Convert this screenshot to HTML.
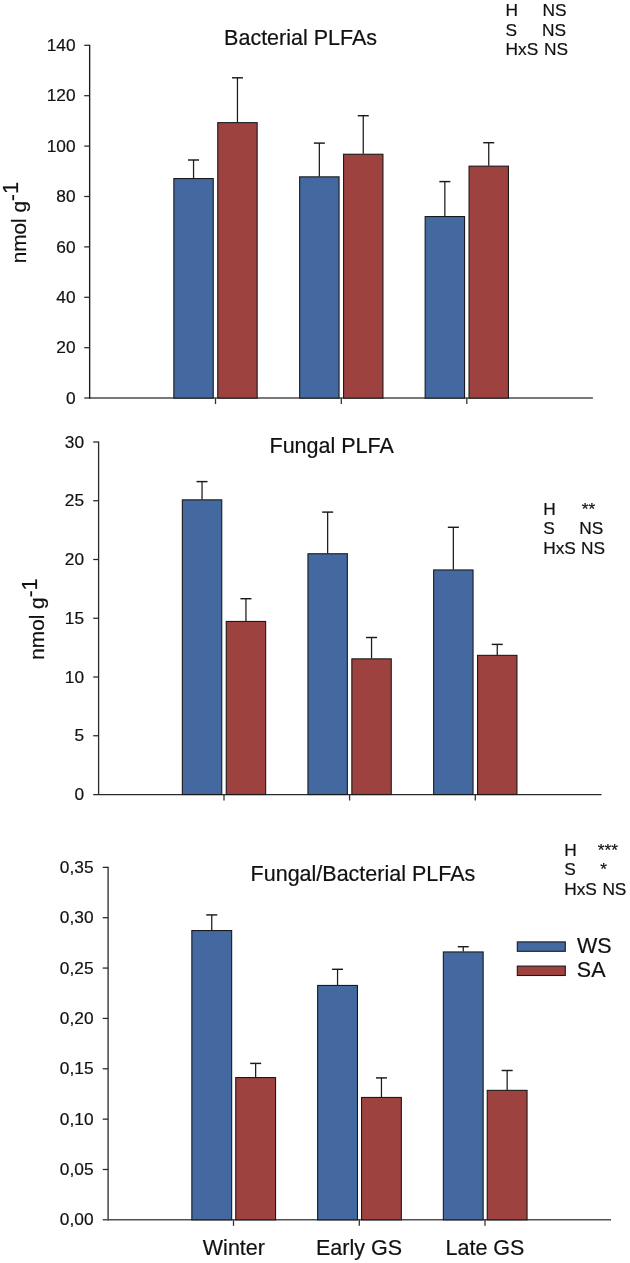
<!DOCTYPE html>
<html><head><meta charset="utf-8"><title>PLFA charts</title>
<style>
html,body{margin:0;padding:0;background:#fff;}
text{stroke:#111;stroke-width:0.2px;}
svg{display:block;font-family:"Liberation Sans", Arial, sans-serif;fill:#111;will-change:transform;transform:translateZ(0);}
</style></head>
<body>
<svg width="630" height="1263" viewBox="0 0 630 1263">
<rect x="0" y="0" width="630" height="1263" fill="#ffffff"/>
<line x1="84.25" y1="398.10" x2="592.90" y2="398.10" stroke="#4c4c4c" stroke-width="1.5"/>
<line x1="89.65" y1="44.70" x2="89.65" y2="398.70" stroke="#1a1a1a" stroke-width="1.35"/>
<rect x="173.85" y="178.55" width="39.40" height="219.55" fill="#4469A1" stroke="#1a1a1a" stroke-width="1.1"/>
<line x1="193.55" y1="178.10" x2="193.55" y2="160.00" stroke="#1a1a1a" stroke-width="1.25"/>
<line x1="188.05" y1="160.00" x2="199.05" y2="160.00" stroke="#1a1a1a" stroke-width="1.45"/>
<rect x="217.75" y="122.65" width="39.40" height="275.45" fill="#9E4240" stroke="#1a1a1a" stroke-width="1.1"/>
<line x1="237.45" y1="122.20" x2="237.45" y2="77.80" stroke="#1a1a1a" stroke-width="1.25"/>
<line x1="231.95" y1="77.80" x2="242.95" y2="77.80" stroke="#1a1a1a" stroke-width="1.45"/>
<rect x="299.65" y="176.85" width="39.40" height="221.25" fill="#4469A1" stroke="#1a1a1a" stroke-width="1.1"/>
<line x1="319.35" y1="176.40" x2="319.35" y2="143.10" stroke="#1a1a1a" stroke-width="1.25"/>
<line x1="313.85" y1="143.10" x2="324.85" y2="143.10" stroke="#1a1a1a" stroke-width="1.45"/>
<rect x="343.55" y="154.25" width="39.40" height="243.85" fill="#9E4240" stroke="#1a1a1a" stroke-width="1.1"/>
<line x1="363.25" y1="153.80" x2="363.25" y2="115.70" stroke="#1a1a1a" stroke-width="1.25"/>
<line x1="357.75" y1="115.70" x2="368.75" y2="115.70" stroke="#1a1a1a" stroke-width="1.45"/>
<rect x="425.15" y="216.55" width="39.40" height="181.55" fill="#4469A1" stroke="#1a1a1a" stroke-width="1.1"/>
<line x1="444.85" y1="216.10" x2="444.85" y2="181.60" stroke="#1a1a1a" stroke-width="1.25"/>
<line x1="439.35" y1="181.60" x2="450.35" y2="181.60" stroke="#1a1a1a" stroke-width="1.45"/>
<rect x="469.05" y="166.15" width="39.40" height="231.95" fill="#9E4240" stroke="#1a1a1a" stroke-width="1.1"/>
<line x1="488.75" y1="165.70" x2="488.75" y2="142.70" stroke="#1a1a1a" stroke-width="1.25"/>
<line x1="483.25" y1="142.70" x2="494.25" y2="142.70" stroke="#1a1a1a" stroke-width="1.45"/>
<text x="75.60" y="403.70" font-size="17.3" text-anchor="end" >0</text>
<line x1="84.25" y1="347.70" x2="89.65" y2="347.70" stroke="#262626" stroke-width="1.25"/>
<text x="75.60" y="353.30" font-size="17.3" text-anchor="end" >20</text>
<line x1="84.25" y1="297.30" x2="89.65" y2="297.30" stroke="#262626" stroke-width="1.25"/>
<text x="75.60" y="302.90" font-size="17.3" text-anchor="end" >40</text>
<line x1="84.25" y1="246.90" x2="89.65" y2="246.90" stroke="#262626" stroke-width="1.25"/>
<text x="75.60" y="252.50" font-size="17.3" text-anchor="end" >60</text>
<line x1="84.25" y1="196.50" x2="89.65" y2="196.50" stroke="#262626" stroke-width="1.25"/>
<text x="75.60" y="202.10" font-size="17.3" text-anchor="end" >80</text>
<line x1="84.25" y1="146.10" x2="89.65" y2="146.10" stroke="#262626" stroke-width="1.25"/>
<text x="75.60" y="151.70" font-size="17.3" text-anchor="end" >100</text>
<line x1="84.25" y1="95.70" x2="89.65" y2="95.70" stroke="#262626" stroke-width="1.25"/>
<text x="75.60" y="101.30" font-size="17.3" text-anchor="end" >120</text>
<line x1="84.25" y1="45.30" x2="89.65" y2="45.30" stroke="#262626" stroke-width="1.25"/>
<text x="75.60" y="50.90" font-size="17.3" text-anchor="end" >140</text>
<line x1="215.50" y1="398.10" x2="215.50" y2="404.10" stroke="#333" stroke-width="1.3"/>
<line x1="341.30" y1="398.10" x2="341.30" y2="404.10" stroke="#333" stroke-width="1.3"/>
<line x1="466.80" y1="398.10" x2="466.80" y2="404.10" stroke="#333" stroke-width="1.3"/>
<line x1="93.20" y1="794.50" x2="601.50" y2="794.50" stroke="#2a2a2a" stroke-width="1.25"/>
<line x1="98.60" y1="441.40" x2="98.60" y2="795.10" stroke="#2a2a2a" stroke-width="1.3"/>
<rect x="182.35" y="499.85" width="39.40" height="294.65" fill="#4469A1" stroke="#1a1a1a" stroke-width="1.1"/>
<line x1="202.05" y1="499.40" x2="202.05" y2="481.60" stroke="#1a1a1a" stroke-width="1.25"/>
<line x1="196.55" y1="481.60" x2="207.55" y2="481.60" stroke="#1a1a1a" stroke-width="1.45"/>
<rect x="226.25" y="621.45" width="39.40" height="173.05" fill="#9E4240" stroke="#1a1a1a" stroke-width="1.1"/>
<line x1="245.95" y1="621.00" x2="245.95" y2="598.70" stroke="#1a1a1a" stroke-width="1.25"/>
<line x1="240.45" y1="598.70" x2="251.45" y2="598.70" stroke="#1a1a1a" stroke-width="1.45"/>
<rect x="307.95" y="553.75" width="39.40" height="240.75" fill="#4469A1" stroke="#1a1a1a" stroke-width="1.1"/>
<line x1="327.65" y1="553.30" x2="327.65" y2="512.10" stroke="#1a1a1a" stroke-width="1.25"/>
<line x1="322.15" y1="512.10" x2="333.15" y2="512.10" stroke="#1a1a1a" stroke-width="1.45"/>
<rect x="351.85" y="658.85" width="39.40" height="135.65" fill="#9E4240" stroke="#1a1a1a" stroke-width="1.1"/>
<line x1="371.55" y1="658.40" x2="371.55" y2="637.50" stroke="#1a1a1a" stroke-width="1.25"/>
<line x1="366.05" y1="637.50" x2="377.05" y2="637.50" stroke="#1a1a1a" stroke-width="1.45"/>
<rect x="433.65" y="569.95" width="39.40" height="224.55" fill="#4469A1" stroke="#1a1a1a" stroke-width="1.1"/>
<line x1="453.35" y1="569.50" x2="453.35" y2="527.30" stroke="#1a1a1a" stroke-width="1.25"/>
<line x1="447.85" y1="527.30" x2="458.85" y2="527.30" stroke="#1a1a1a" stroke-width="1.45"/>
<rect x="477.55" y="655.35" width="39.40" height="139.15" fill="#9E4240" stroke="#1a1a1a" stroke-width="1.1"/>
<line x1="497.25" y1="654.90" x2="497.25" y2="644.40" stroke="#1a1a1a" stroke-width="1.25"/>
<line x1="491.75" y1="644.40" x2="502.75" y2="644.40" stroke="#1a1a1a" stroke-width="1.45"/>
<text x="84.00" y="800.10" font-size="17.3" text-anchor="end" >0</text>
<line x1="93.20" y1="735.75" x2="98.60" y2="735.75" stroke="#262626" stroke-width="1.25"/>
<text x="84.00" y="741.35" font-size="17.3" text-anchor="end" >5</text>
<line x1="93.20" y1="677.00" x2="98.60" y2="677.00" stroke="#262626" stroke-width="1.25"/>
<text x="84.00" y="682.60" font-size="17.3" text-anchor="end" >10</text>
<line x1="93.20" y1="618.25" x2="98.60" y2="618.25" stroke="#262626" stroke-width="1.25"/>
<text x="84.00" y="623.85" font-size="17.3" text-anchor="end" >15</text>
<line x1="93.20" y1="559.50" x2="98.60" y2="559.50" stroke="#262626" stroke-width="1.25"/>
<text x="84.00" y="565.10" font-size="17.3" text-anchor="end" >20</text>
<line x1="93.20" y1="500.75" x2="98.60" y2="500.75" stroke="#262626" stroke-width="1.25"/>
<text x="84.00" y="506.35" font-size="17.3" text-anchor="end" >25</text>
<line x1="93.20" y1="442.00" x2="98.60" y2="442.00" stroke="#262626" stroke-width="1.25"/>
<text x="84.00" y="447.60" font-size="17.3" text-anchor="end" >30</text>
<line x1="224.00" y1="794.50" x2="224.00" y2="800.50" stroke="#333" stroke-width="1.3"/>
<line x1="349.60" y1="794.50" x2="349.60" y2="800.50" stroke="#333" stroke-width="1.3"/>
<line x1="475.30" y1="794.50" x2="475.30" y2="800.50" stroke="#333" stroke-width="1.3"/>
<line x1="102.70" y1="1219.85" x2="611.00" y2="1219.85" stroke="#505050" stroke-width="1.5"/>
<line x1="108.10" y1="866.75" x2="108.10" y2="1220.45" stroke="#4a4a4a" stroke-width="1.55"/>
<rect x="191.85" y="930.55" width="39.80" height="289.30" fill="#4469A1" stroke="#1a1a1a" stroke-width="1.1"/>
<line x1="211.75" y1="930.10" x2="211.75" y2="914.90" stroke="#1a1a1a" stroke-width="1.25"/>
<line x1="206.25" y1="914.90" x2="217.25" y2="914.90" stroke="#1a1a1a" stroke-width="1.45"/>
<rect x="235.75" y="1077.55" width="39.80" height="142.30" fill="#9E4240" stroke="#1a1a1a" stroke-width="1.1"/>
<line x1="255.65" y1="1077.10" x2="255.65" y2="1063.40" stroke="#1a1a1a" stroke-width="1.25"/>
<line x1="250.15" y1="1063.40" x2="261.15" y2="1063.40" stroke="#1a1a1a" stroke-width="1.45"/>
<rect x="317.65" y="985.45" width="39.80" height="234.40" fill="#4469A1" stroke="#1a1a1a" stroke-width="1.1"/>
<line x1="337.55" y1="985.00" x2="337.55" y2="969.30" stroke="#1a1a1a" stroke-width="1.25"/>
<line x1="332.05" y1="969.30" x2="343.05" y2="969.30" stroke="#1a1a1a" stroke-width="1.45"/>
<rect x="361.55" y="1097.45" width="39.80" height="122.40" fill="#9E4240" stroke="#1a1a1a" stroke-width="1.1"/>
<line x1="381.45" y1="1097.00" x2="381.45" y2="1077.90" stroke="#1a1a1a" stroke-width="1.25"/>
<line x1="375.95" y1="1077.90" x2="386.95" y2="1077.90" stroke="#1a1a1a" stroke-width="1.45"/>
<rect x="443.35" y="951.95" width="39.80" height="267.90" fill="#4469A1" stroke="#1a1a1a" stroke-width="1.1"/>
<line x1="463.25" y1="951.50" x2="463.25" y2="946.70" stroke="#1a1a1a" stroke-width="1.25"/>
<line x1="457.75" y1="946.70" x2="468.75" y2="946.70" stroke="#1a1a1a" stroke-width="1.45"/>
<rect x="487.25" y="1090.35" width="39.80" height="129.50" fill="#9E4240" stroke="#1a1a1a" stroke-width="1.1"/>
<line x1="507.15" y1="1089.90" x2="507.15" y2="1070.50" stroke="#1a1a1a" stroke-width="1.25"/>
<line x1="501.65" y1="1070.50" x2="512.65" y2="1070.50" stroke="#1a1a1a" stroke-width="1.45"/>
<text x="93.50" y="1225.45" font-size="17.3" text-anchor="end" >0,00</text>
<line x1="102.70" y1="1169.49" x2="108.10" y2="1169.49" stroke="#262626" stroke-width="1.25"/>
<text x="93.50" y="1175.09" font-size="17.3" text-anchor="end" >0,05</text>
<line x1="102.70" y1="1119.14" x2="108.10" y2="1119.14" stroke="#262626" stroke-width="1.25"/>
<text x="93.50" y="1124.74" font-size="17.3" text-anchor="end" >0,10</text>
<line x1="102.70" y1="1068.78" x2="108.10" y2="1068.78" stroke="#262626" stroke-width="1.25"/>
<text x="93.50" y="1074.38" font-size="17.3" text-anchor="end" >0,15</text>
<line x1="102.70" y1="1018.42" x2="108.10" y2="1018.42" stroke="#262626" stroke-width="1.25"/>
<text x="93.50" y="1024.02" font-size="17.3" text-anchor="end" >0,20</text>
<line x1="102.70" y1="968.06" x2="108.10" y2="968.06" stroke="#262626" stroke-width="1.25"/>
<text x="93.50" y="973.66" font-size="17.3" text-anchor="end" >0,25</text>
<line x1="102.70" y1="917.71" x2="108.10" y2="917.71" stroke="#262626" stroke-width="1.25"/>
<text x="93.50" y="923.31" font-size="17.3" text-anchor="end" >0,30</text>
<line x1="102.70" y1="867.35" x2="108.10" y2="867.35" stroke="#262626" stroke-width="1.25"/>
<text x="93.50" y="872.95" font-size="17.3" text-anchor="end" >0,35</text>
<line x1="233.50" y1="1219.85" x2="233.50" y2="1225.85" stroke="#333" stroke-width="1.3"/>
<line x1="359.30" y1="1219.85" x2="359.30" y2="1225.85" stroke="#333" stroke-width="1.3"/>
<line x1="485.00" y1="1219.85" x2="485.00" y2="1225.85" stroke="#333" stroke-width="1.3"/>
<text x="224.10" y="45.10" font-size="21.5" text-anchor="start" >Bacterial PLFAs</text>
<text x="269.50" y="452.90" font-size="21.5" text-anchor="start" >Fungal PLFA</text>
<text x="250.60" y="880.90" font-size="21.5" text-anchor="start" >Fungal/Bacterial PLFAs</text>
<text x="233.90" y="1254.60" font-size="21.5" text-anchor="middle" >Winter</text>
<text x="359.00" y="1254.60" font-size="21.5" text-anchor="middle" >Early GS</text>
<text x="485.00" y="1254.60" font-size="21.5" text-anchor="middle" >Late GS</text>
<text transform="translate(25.70,222.60) rotate(-90)" font-size="20.8" text-anchor="middle">nmol g<tspan dy="-7.2">-</tspan><tspan dy="-0.5" font-size="21.8">1</tspan></text>
<text transform="translate(44.40,619.00) rotate(-90)" font-size="20.8" text-anchor="middle">nmol g<tspan dy="-7.2">-</tspan><tspan dy="-0.5" font-size="21.8">1</tspan></text>
<text x="505.60" y="16.40" font-size="17.3" text-anchor="start" >H</text>
<text x="542.60" y="16.40" font-size="17.3" text-anchor="start" >NS</text>
<text x="505.60" y="35.90" font-size="17.3" text-anchor="start" >S</text>
<text x="542.00" y="35.90" font-size="17.3" text-anchor="start" >NS</text>
<text x="505.60" y="55.40" font-size="17.3" text-anchor="start" >HxS</text>
<text x="544.00" y="55.40" font-size="17.3" text-anchor="start" >NS</text>
<text x="543.20" y="514.90" font-size="17.3" text-anchor="start" >H</text>
<text x="581.80" y="514.90" font-size="17.3" text-anchor="start" >**</text>
<text x="543.20" y="534.20" font-size="17.3" text-anchor="start" >S</text>
<text x="579.20" y="534.20" font-size="17.3" text-anchor="start" >NS</text>
<text x="543.20" y="553.50" font-size="17.3" text-anchor="start" >HxS</text>
<text x="581.00" y="553.50" font-size="17.3" text-anchor="start" >NS</text>
<text x="564.20" y="855.60" font-size="17.3" text-anchor="start" >H</text>
<text x="597.80" y="855.60" font-size="17.3" text-anchor="start" >***</text>
<text x="564.20" y="875.35" font-size="17.3" text-anchor="start" >S</text>
<text x="600.30" y="875.35" font-size="17.3" text-anchor="start" >*</text>
<text x="564.20" y="895.10" font-size="17.3" text-anchor="start" >HxS</text>
<text x="602.40" y="895.10" font-size="17.3" text-anchor="start" >NS</text>
<rect x="517.3" y="941.9" width="48" height="9.4" fill="#4469A1" stroke="#1a1a1a" stroke-width="1.1"/>
<rect x="517.3" y="966.1" width="48" height="9.4" fill="#9E4240" stroke="#1a1a1a" stroke-width="1.1"/>
<text x="577.00" y="953.30" font-size="21.5" text-anchor="start" >WS</text>
<text x="576.80" y="977.30" font-size="21.5" text-anchor="start" >SA</text>
</svg>
</body></html>
